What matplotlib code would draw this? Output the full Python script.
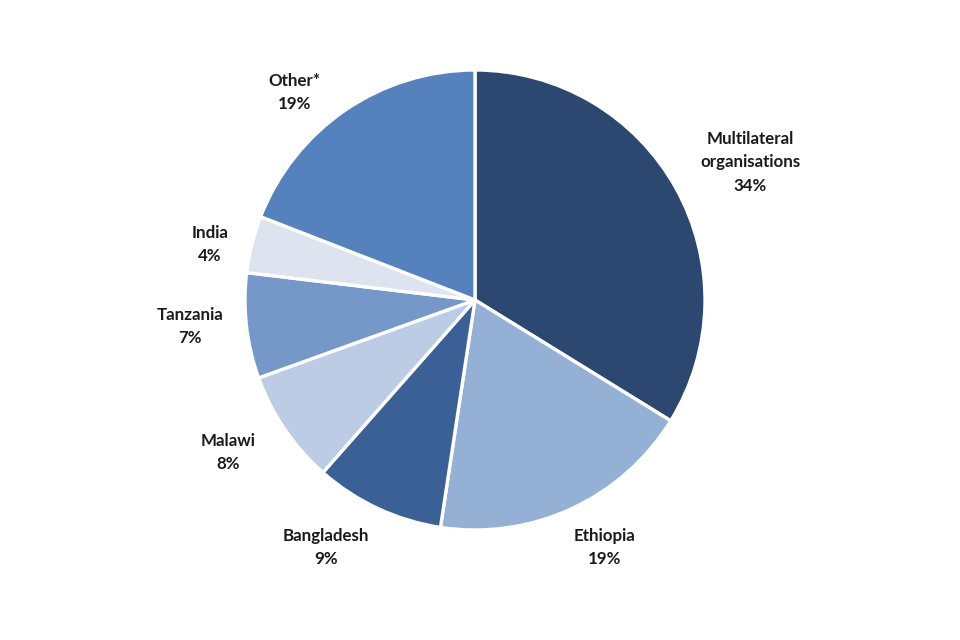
import matplotlib.pyplot as plt
import numpy as np

# share of spend by recipient (%); labels show rounded values
labels = ['Multilateral\norganisations', 'Ethiopia', 'Bangladesh', 'Malawi',
          'Tanzania', 'India', 'Other*']
shares = [33.8, 18.6, 9.1, 8.0, 7.4, 4.0, 19.1]
colors = ['#2C4770', '#95B0D5', '#3A6095', '#BCCCE4', '#7598C8', '#DDE4F0', '#5581BC']
# label placement: distance in pie radii and angle nudge (deg) from slice middle
label_dist = [1.338, 1.214, 1.256, 1.26, 1.246, 1.178, 1.197]
label_nudge = [-2.6, 2.9, -6.1, -2.5, -1.2, 2.3, 6.7]

fig = plt.figure(figsize=(9.6, 6.4), dpi=100)
ax = fig.add_axes([0, 0, 1, 1])

wedges, _ = ax.pie(shares, colors=colors, startangle=90, counterclock=False,
                   radius=1.0, wedgeprops=dict(edgecolor='white', linewidth=2.4))

for w, lab, share, d, nudge in zip(wedges, labels, shares, label_dist, label_nudge):
    mid = np.deg2rad((w.theta1 + w.theta2) / 2 + nudge)
    ax.text(d * np.cos(mid), d * np.sin(mid), f"{lab}\n{round(share)}%",
            ha='center', va='center', fontsize=12.2, fontweight='bold',
            family='Lato', color='#1a1a1a', linespacing=1.55)

ax.set_xlim(-475 / 230, 485 / 230)
ax.set_ylim(-340 / 230, 300 / 230)
ax.set_aspect('equal')
ax.axis('off')

fig.savefig('out.png', dpi=100, facecolor='white')
